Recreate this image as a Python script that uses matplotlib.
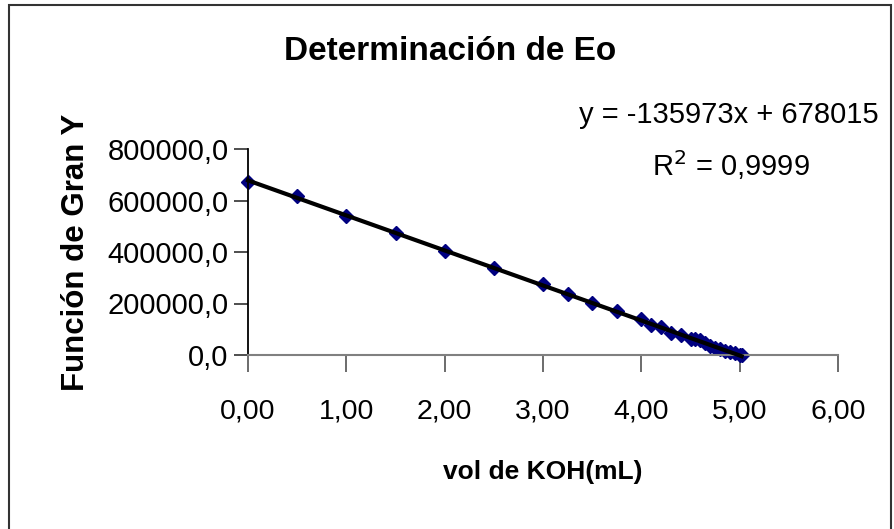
import matplotlib.pyplot as plt
from matplotlib.ticker import FuncFormatter
from matplotlib.patches import Rectangle

plt.rcParams['font.family'] = ['Liberation Sans', 'DejaVu Sans']

# Datos
vol_koh = [0.0, 0.5, 1.0, 1.5, 2.0, 2.5, 3.0, 3.25, 3.5, 3.75, 4.0, 4.1, 4.2,
           4.3, 4.4, 4.5, 4.55, 4.6, 4.65, 4.7, 4.75, 4.8, 4.85, 4.9, 4.95,
           5.0, 5.02]
gran_y = [673000, 617000, 541000, 475000, 405000, 339000, 274600, 236000,
          201000, 172000, 138000, 117000, 108000, 87000, 78000, 62000, 64000,
          57000, 45000, 34000, 28000, 22000, 17000, 11000, 6000, 1000, 0]

# Linea de tendencia (Excel)
pendiente = -135973
intercepto = 678015
r2 = "0,9999"

x_ticks = [0, 1, 2, 3, 4, 5, 6]
y_ticks = [0, 200000, 400000, 600000, 800000]

fig = plt.figure(figsize=(8.94, 5.29), dpi=100)
ax = fig.add_axes([248 / 894, 1 - 355 / 529, 590 / 894, 206 / 529])

# Borde del area del grafico
fig.patches.append(Rectangle((9 / 894, -0.05), 882 / 894, 1 - 5 / 529 + 0.05,
                             transform=fig.transFigure, fill=False,
                             edgecolor='#333333', linewidth=1.5))

ax.plot(vol_koh, gran_y, linestyle='none', marker='D', markersize=7.5,
        color='#000080', zorder=2, clip_on=False)

x_fit = [0, max(vol_koh)]
y_fit = [intercepto + pendiente * v for v in x_fit]
ax.plot(x_fit, y_fit, color='black', linewidth=3.0, zorder=3, clip_on=False)

ax.set_xlim(0, 6)
ax.set_ylim(0, 800000)
ax.set_xticks(x_ticks)
ax.set_yticks(y_ticks)
ax.xaxis.set_major_formatter(FuncFormatter(lambda v, p: f"{v:.2f}".replace('.', ',')))
ax.yaxis.set_major_formatter(FuncFormatter(lambda v, p: f"{v:.1f}".replace('.', ',')))

for s in ['top', 'right']:
    ax.spines[s].set_visible(False)
ax.spines['left'].set_color('black')
ax.spines['bottom'].set_color('#808080')
ax.spines['left'].set_linewidth(1.3)
ax.spines['bottom'].set_linewidth(1.5)

ax.tick_params(axis='x', direction='out', length=12, width=1.3, color='#606060',
               labelsize=20.5, pad=19)
ax.tick_params(axis='y', direction='out', length=10, width=1.3, color='#404040',
               labelsize=21, pad=4)

ax.set_xlabel("vol de KOH(mL)", fontsize=19, fontweight='bold', labelpad=26)
ax.set_ylabel("Función de Gran Y", fontsize=22.5, fontweight='bold', labelpad=12)

fig.text(450 / 894, 1 - 51 / 529, "Determinación de Eo", fontsize=24,
         fontweight='bold', ha='center', va='center')
fig.text(729 / 894, 1 - 115 / 529, f"y = {pendiente}x + {intercepto}",
         fontsize=21, ha='center', va='center')
fig.text(731 / 894, 1 - 165 / 529, "R$^{2}$ = " + r2, fontsize=21,
         ha='center', va='center')

fig.savefig("out.png", dpi=100)
